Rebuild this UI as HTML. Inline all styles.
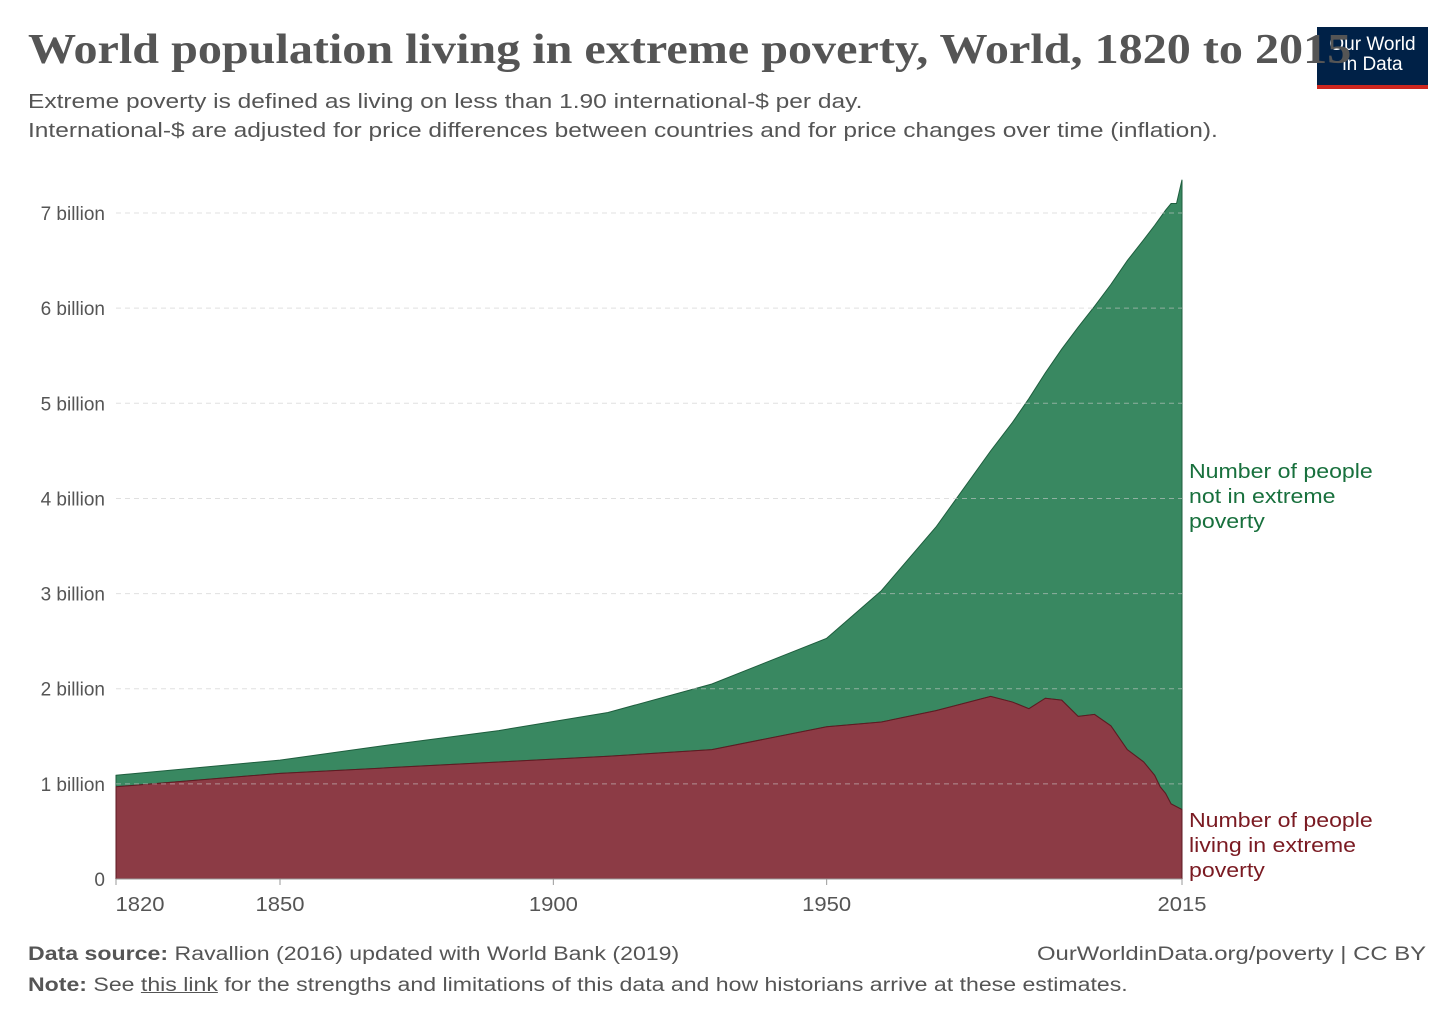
<!DOCTYPE html>
<html><head><meta charset="utf-8">
<style>
body{margin:0;background:#fff;font-family:"Liberation Sans",sans-serif;}
#wrap{position:relative;width:1456px;height:1028px;overflow:hidden;}
.t{position:absolute;white-space:nowrap;transform-origin:0 0;}
</style></head>
<body>
<div id="wrap">
<div style="position:absolute;z-index:1;left:1317px;top:27px;width:111px;height:62px;background:#002147;border-bottom:4px solid #ce261e;box-sizing:border-box;color:#fff;font-size:19px;text-align:center;line-height:20px;padding-top:8px;">Our World<br>in Data</div>
<div class="t" style="z-index:2;left:28px;top:26px;font-family:'Liberation Serif',serif;font-weight:bold;font-size:42px;color:#555;transform:scaleX(1.146);">World population living in extreme poverty, World, 1820 to 2015</div>
<div class="t" style="left:28px;top:88px;font-size:20px;color:#555;line-height:29px;transform:scaleX(1.225);">Extreme poverty is defined as living on less than 1.90 international-$ per day.<br>International-$ are adjusted for price differences between countries and for price changes over time (inflation).</div>
<svg id="chart" width="1456" height="1028" style="position:absolute;left:0;top:0"></svg>
<div class="t" style="left:28px;top:944px;font-size:19px;color:#555;transform:scaleX(1.217);"><b>Data source:</b> Ravallion (2016) updated with World Bank (2019)</div>
<div class="t" style="left:1037px;top:944px;font-size:19px;color:#555;transform:scaleX(1.256);">OurWorldinData.org/poverty | CC BY</div>
<div class="t" style="left:28px;top:975px;font-size:19px;color:#555;transform:scaleX(1.215);"><b>Note:</b> See <u>this link</u> for the strengths and limitations of this data and how historians arrive at these estimates.</div>
</div>
<script>
const years=[1820,1850,1870,1890,1910,1929,1950,1960,1970,1980,1984,1987,1990,1993,1996,1999,2002,2005,2008,2010,2011,2012,2013,2014,2015];
const poverty=[0.97,1.11,1.17,1.23,1.29,1.36,1.60,1.65,1.77,1.92,1.86,1.79,1.90,1.88,1.71,1.73,1.61,1.36,1.23,1.09,0.97,0.90,0.79,0.76,0.73];
const total=[1.09,1.25,1.41,1.56,1.75,2.05,2.53,3.03,3.70,4.50,4.80,5.05,5.32,5.57,5.80,6.02,6.25,6.50,6.72,6.87,6.95,7.03,7.10,7.10,7.35];
const yTicks=[0,1,2,3,4,5,6,7];
const xTicks=[1820,1850,1900,1950,2015];
const NS="http://www.w3.org/2000/svg";
const svg=document.getElementById('chart');
const X=y=>116+(y-1820)*(1066/195);
const Y=v=>879-v*95.14;
function mk(tag,attrs){const e=document.createElementNS(NS,tag);for(const k in attrs)e.setAttribute(k,attrs[k]);svg.appendChild(e);return e;}
yTicks.forEach(v=>{
  const t=mk('text',{x:105,y:Y(v)+7,'text-anchor':'end','font-size':19,fill:'#555','font-family':'Liberation Sans'});
  t.textContent=v===0?'0':v+' billion';
  
  
});
let topPts=years.map((y,i)=>X(y)+','+Y(total[i])).join(' ');
let povPts=years.map((y,i)=>X(y)+','+Y(poverty[i])).join(' ');
const g=mk('polygon',{points:topPts+' '+years.slice().reverse().map((y,i)=>X(y)+','+Y(poverty[years.length-1-i])).join(' '),fill:'#2a7f55','fill-opacity':0.93,stroke:'#1e5e3e','stroke-width':1});


const r=mk('polygon',{points:povPts+' '+X(2015)+','+Y(0)+' '+X(1820)+','+Y(0),fill:'#7f2631','fill-opacity':0.9,stroke:'#5e1a22','stroke-width':1});


yTicks.forEach(v=>{
  if(v>0){const l=mk('line',{x1:116,x2:1182,y1:Y(v),y2:Y(v),stroke:'#ccc','stroke-opacity':0.6,'stroke-dasharray':'5,4'});
  
  }
});
const ax=mk('line',{x1:116,x2:1182,y1:879,y2:879,stroke:'#999'});


xTicks.forEach(v=>{
  const tk=mk('line',{x1:X(v),x2:X(v),y1:879,y2:885,stroke:'#999'});
  
  
  const t=mk('text',{x:X(v)+(v===1820?24:0),y:911,'text-anchor':'middle','font-size':20,fill:'#555','font-family':'Liberation Sans',textLength:49,lengthAdjust:'spacingAndGlyphs'});
  t.textContent=v;
  
  
});
function label(lines,y0,color,name){lines.forEach((s,i)=>{const t=mk('text',{x:1189,y:y0+i*25,'font-size':20,fill:color,'font-family':'Liberation Sans',transform:'translate(1189 0) scale(1.157 1) translate(-1189 0)'});t.textContent=s;

});}
label(['Number of people','not in extreme','poverty'],478,'#18703d','legend-not-in-poverty');
label(['Number of people','living in extreme','poverty'],827,'#7a1a22','legend-in-poverty');
</script>
</body></html>
